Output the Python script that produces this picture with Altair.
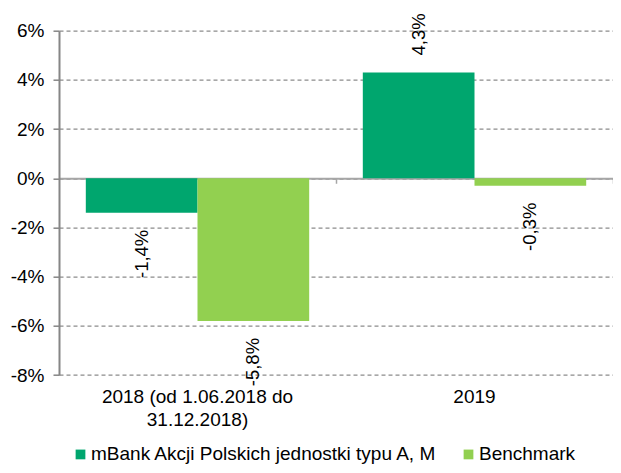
import altair as alt
import pandas as pd

categories = ["2018 (od 1.06.2018 do|31.12.2018)", "2019"]
series_names = ["mBank Akcji Polskich jednostki typu A, M", "Benchmark"]
fund_values = [-1.4, 4.3]
benchmark_values = [-5.8, -0.3]
colors = ["#00A66E", "#92D050"]
y_ticks = [-8, -6, -4, -2, 0, 2, 4, 6]

rows = []
for c, f, b in zip(categories, fund_values, benchmark_values):
    rows.append({"cat": c, "series": series_names[0], "value": f})
    rows.append({"cat": c, "series": series_names[1], "value": b})
df = pd.DataFrame(rows)

W, H = 554, 344.3
FONT = "Liberation Sans"
ZERO_OFFSET = -H * 8 / 14

x_scale = alt.Scale(domain=categories, paddingInner=0, paddingOuter=0)
xo_scale = alt.Scale(domain=series_names, paddingInner=0, paddingOuter=0.24)
y_scale = alt.Scale(domain=[-8, 6], nice=False, zero=False)
color_scale = alt.Scale(domain=series_names, range=colors)

base = alt.Chart(df).transform_calculate(
    label="replace(toString(datum.value), '.', ',') + '%'"
)

bars = base.mark_bar().encode(
    x=alt.X("cat:N", scale=x_scale, sort=categories,
            axis=alt.Axis(title=None, labels=False, orient="bottom",
                          domain=True, domainColor="#a6a6a6", domainWidth=2,
                          ticks=True, tickColor="#a6a6a6", tickWidth=1.5,
                          tickSize=5, bandPosition=1, offset=ZERO_OFFSET,
                          grid=False)),
    xOffset=alt.XOffset("series:N", scale=xo_scale, sort=series_names),
    y=alt.Y("value:Q", scale=y_scale,
            axis=alt.Axis(title=None, values=y_ticks,
                          labelExpr="datum.value + '%'",
                          grid=True, gridDash=[4, 3], gridColor="#8c8c8c",
                          gridWidth=1.3, domainColor="#868686", domainWidth=2,
                          tickColor="#868686", tickSize=6, tickWidth=1.5,
                          labelFontSize=19, labelPadding=9,
                          labelColor="#000000", labelFont=FONT)),
    color=alt.Color("series:N", scale=color_scale, sort=series_names,
                    legend=alt.Legend(title=None, orient="none",
                                      direction="horizontal",
                                      legendX=12, legendY=414,
                                      symbolType="square", symbolSize=95,
                                      symbolStrokeWidth=0,
                                      labelFontSize=19, labelFont=FONT,
                                      labelColor="#000000",
                                      labelLimit=0, labelOffset=1,
                                      columnPadding=21)),
)

pos_text = base.transform_filter("datum.value >= 0").mark_text(
    angle=270, align="left", baseline="middle", dx=17,
    fontSize=18.5, font=FONT, color="#000000"
).encode(
    x=alt.X("cat:N", scale=x_scale, sort=categories,
            axis=alt.Axis(title=None, orient="bottom", domain=False,
                          ticks=False, grid=False, labelAngle=0,
                          labelExpr="split(datum.label, '|')",
                          labelFontSize=19, labelFont=FONT,
                          labelColor="#000000", labelPadding=12,
                          labelLineHeight=23, labelBaseline="top",
                          labelLimit=0)),
    xOffset=alt.XOffset("series:N", scale=xo_scale, sort=series_names),
    y=alt.Y("value:Q", scale=y_scale),
    text="label:N",
)

neg_text = base.transform_filter("datum.value < 0").mark_text(
    angle=270, align="right", baseline="middle", dx=-17,
    fontSize=18.5, font=FONT, color="#000000"
).encode(
    x=alt.X("cat:N", scale=x_scale, sort=categories, axis=None),
    xOffset=alt.XOffset("series:N", scale=xo_scale, sort=series_names),
    y=alt.Y("value:Q", scale=y_scale),
    text="label:N",
)

chart = alt.layer(bars, pos_text, neg_text).resolve_axis(
    x="independent"
).properties(
    width=W, height=H,
    autosize=alt.AutoSizeParams(type="none"),
    padding={"left": 51, "top": 22.7, "right": 0, "bottom": 90},
).configure_view(stroke=None)

chart.save("out.html", embed_options={"renderer": "svg", "actions": False})
